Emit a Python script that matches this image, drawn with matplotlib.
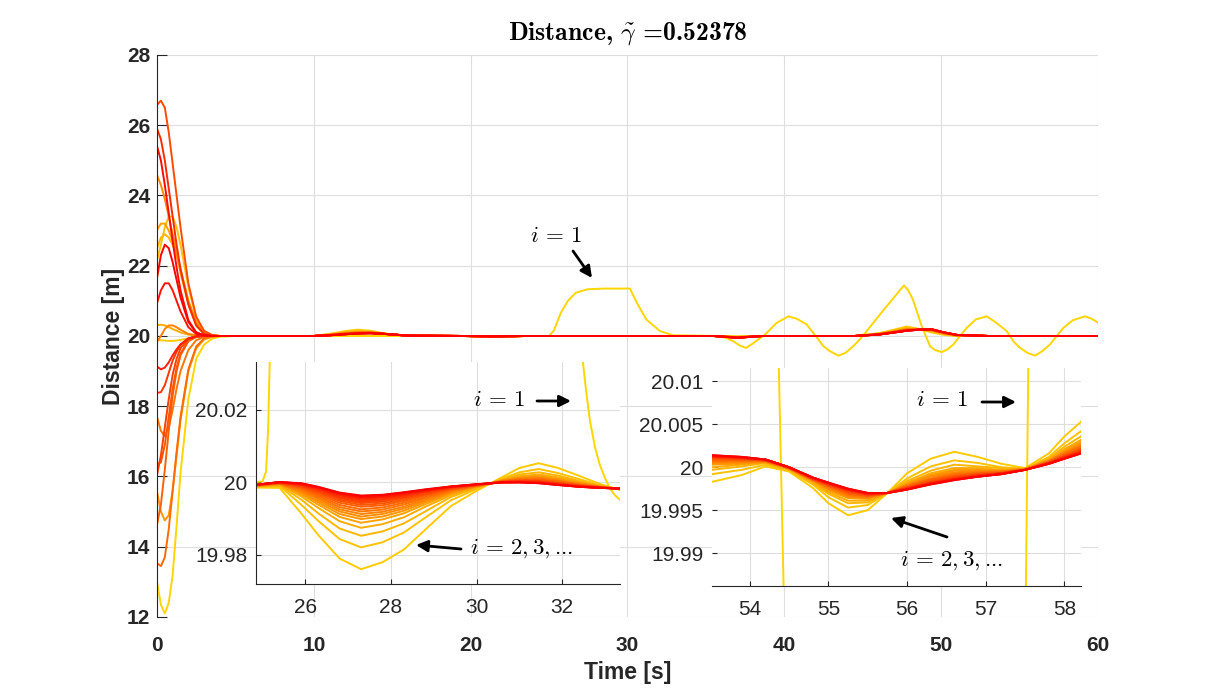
import matplotlib
matplotlib.use("Agg")
import matplotlib.pyplot as plt
from matplotlib.patches import FancyArrowPatch
from matplotlib.ticker import FormatStrFormatter
import numpy as np

plt.rcParams['font.family'] = ['Liberation Sans', 'DejaVu Sans']
plt.rcParams['mathtext.fontset'] = 'cm'

# ---------------- main plot data ----------------
t_early = [0, 0.25, 0.5, 0.75, 1.0, 1.25, 1.5, 2.0, 2.5, 3.0, 3.5, 4.0, 5.0]
t_late = [10, 11, 12, 12.8, 13.6, 14.5, 16, 19.5, 21.5, 23.5, 35.5, 37, 38.6,
          44.5, 46, 47, 47.8, 48.6, 49.4, 50.2, 51, 53, 60]

# vehicle i = 1
lead_t = [0, 0.25, 0.5, 0.75, 1.0, 1.25, 1.5, 2.0, 2.5, 3.0, 3.5, 4.0, 5.0,
          25.0, 25.3, 25.75, 26.2, 26.7, 27.45, 28.5, 30.16, 30.59, 31.2, 32.07, 32.9,
          35.9, 36.4, 36.75, 37.15, 37.56, 38.0, 38.77, 39.5, 40.26, 40.8,
          41.42, 42.0, 42.49, 42.9, 43.45, 43.9, 44.4, 44.8, 45.25, 46.4,
          47.63, 47.9, 48.2, 48.76, 49.29, 49.6, 50.03, 50.4, 50.78, 51.2,
          51.63, 52.2, 52.9, 53.5, 54.18, 54.6, 55.03, 55.5, 55.98, 56.45,
          56.94, 57.37, 57.79, 58.4, 59.17, 59.6, 60.0]
lead_d = [13.0, 12.35, 12.1, 12.4, 13.2, 14.6, 16.1, 18.2, 19.35, 19.75, 19.92, 19.98, 20.0,
          20.0, 20.15, 20.66, 21.0, 21.23, 21.33, 21.35, 21.35, 20.95, 20.47, 20.14, 20.02,
          20.0, 19.92, 19.85, 19.73, 19.66, 19.79, 20.04, 20.37, 20.56, 20.49,
          20.33, 20.0, 19.71, 19.57, 19.44, 19.52, 19.71, 19.9, 20.14, 20.78,
          21.44, 21.3, 21.04, 20.28, 19.71, 19.6, 19.54, 19.62, 19.76, 20.0,
          20.23, 20.47, 20.56, 20.38, 20.14, 19.85, 19.66, 19.52, 19.44, 19.57,
          19.76, 20.0, 20.23, 20.45, 20.56, 20.49, 20.38]

# vehicles i = 2 ... 21, start-up transient (on t_early)
follow_early = [
    [19.89, 19.88, 19.87, 19.86, 19.86, 19.87, 19.89, 19.93, 19.97, 19.99, 20.0, 20.0, 20.0],
    [22.16, 22.6, 23.1, 23.4, 23.4, 23.1, 22.6, 21.4, 20.5, 20.12, 20.02, 20.0, 20.0],
    [22.5, 22.8, 22.9, 22.8, 22.6, 22.3, 21.9, 21.0, 20.35, 20.08, 20.01, 20.0, 20.0],
    [20.31, 20.32, 20.3, 20.25, 20.2, 20.15, 20.1, 20.04, 20.01, 20.0, 20.0, 20.0, 20.0],
    [23.02, 23.2, 23.2, 23.0, 22.7, 22.3, 21.8, 20.9, 20.3, 20.06, 20.01, 20.0, 20.0],
    [15.57, 15.0, 14.75, 14.9, 15.6, 16.6, 17.6, 19.0, 19.65, 19.9, 19.97, 20.0, 20.0],
    [24.58, 24.3, 23.9, 23.4, 22.9, 22.4, 21.9, 21.0, 20.4, 20.1, 20.02, 20.0, 20.0],
    [19.84, 20.0, 20.2, 20.3, 20.3, 20.25, 20.18, 20.06, 20.02, 20.0, 20.0, 20.0, 20.0],
    [17.7, 17.3, 17.15, 17.4, 17.9, 18.5, 19.0, 19.6, 19.88, 19.97, 20.0, 20.0, 20.0],
    [13.53, 13.45, 13.7, 14.5, 15.6, 16.7, 17.7, 19.05, 19.7, 19.93, 19.99, 20.0, 20.0],
    [14.62, 15.2, 16.2, 17.3, 18.3, 19.0, 19.45, 19.85, 19.97, 20.0, 20.0, 20.0, 20.0],
    [16.36, 16.4, 16.9, 17.7, 18.5, 19.1, 19.5, 19.88, 19.98, 20.0, 20.0, 20.0, 20.0],
    [26.58, 26.7, 26.5, 25.8, 24.9, 24.0, 23.1, 21.5, 20.55, 20.15, 20.03, 20.0, 20.0],
    [16.04, 16.6, 17.4, 18.2, 18.9, 19.35, 19.65, 19.92, 19.99, 20.0, 20.0, 20.0, 20.0],
    [18.38, 18.4, 18.6, 18.95, 19.3, 19.55, 19.75, 19.93, 19.99, 20.0, 20.0, 20.0, 20.0],
    [25.91, 25.6, 25.0, 24.2, 23.4, 22.6, 21.9, 20.9, 20.3, 20.06, 20.01, 20.0, 20.0],
    [19.13, 19.05, 19.1, 19.25, 19.45, 19.62, 19.76, 19.93, 19.99, 20.0, 20.0, 20.0, 20.0],
    [20.93, 21.3, 21.5, 21.5, 21.3, 21.0, 20.7, 20.25, 20.06, 20.01, 20.0, 20.0, 20.0],
    [25.41, 25.0, 24.3, 23.5, 22.7, 21.95, 21.3, 20.45, 20.1, 20.02, 20.0, 20.0, 20.0],
    [21.64, 22.3, 22.6, 22.5, 22.1, 21.6, 21.1, 20.4, 20.1, 20.02, 20.0, 20.0, 20.0],
]

# vehicles i = 2 ... 21, later part (on t_late)
follow_late = [
    [20, 20.06, 20.14, 20.18, 20.15, 20.07, 20.0, 20, 19.97, 20, 20, 19.99, 20, 20, 20.08, 20.18, 20.27, 20.20, 20.10, 20.03, 20.00, 20, 20],
    [20, 20.05, 20.11, 20.15, 20.13, 20.07, 20.0, 20, 19.98, 20, 20, 19.98, 20, 20, 20.07, 20.16, 20.23, 20.19, 20.13, 20.05, 20.01, 20, 20],
    [20, 20.04, 20.10, 20.13, 20.12, 20.07, 20.0, 20, 19.98, 20, 20, 19.97, 20, 20, 20.06, 20.14, 20.22, 20.19, 20.14, 20.06, 20.01, 20, 20],
    [20, 20.04, 20.09, 20.12, 20.11, 20.06, 20.01, 20, 19.98, 20, 20, 19.97, 20, 20, 20.06, 20.13, 20.20, 20.19, 20.15, 20.07, 20.02, 20, 20],
    [20, 20.03, 20.08, 20.11, 20.11, 20.06, 20.01, 20, 19.98, 20, 20, 19.96, 20, 20, 20.05, 20.13, 20.19, 20.19, 20.16, 20.07, 20.02, 20, 20],
    [20, 20.03, 20.08, 20.11, 20.10, 20.06, 20.01, 20, 19.98, 20, 20, 19.96, 20, 20, 20.05, 20.13, 20.19, 20.19, 20.16, 20.08, 20.02, 20, 20],
    [20, 20.03, 20.08, 20.10, 20.10, 20.06, 20.01, 20, 19.98, 20, 20, 19.96, 20, 20, 20.05, 20.12, 20.18, 20.19, 20.16, 20.08, 20.02, 20, 20],
    [20, 20.03, 20.07, 20.10, 20.10, 20.06, 20.01, 20, 19.99, 20, 20, 19.96, 20, 20, 20.05, 20.12, 20.18, 20.19, 20.17, 20.08, 20.02, 20, 20],
    [20, 20.03, 20.07, 20.09, 20.10, 20.06, 20.01, 20, 19.99, 20, 20, 19.96, 20, 20, 20.05, 20.12, 20.18, 20.18, 20.17, 20.08, 20.02, 20, 20],
    [20, 20.03, 20.07, 20.09, 20.09, 20.06, 20.01, 20, 19.99, 20, 20, 19.96, 20, 20, 20.05, 20.11, 20.17, 20.18, 20.17, 20.09, 20.02, 20, 20],
    [20, 20.03, 20.06, 20.09, 20.09, 20.06, 20.01, 20, 19.99, 20, 20, 19.96, 20, 20, 20.05, 20.11, 20.17, 20.18, 20.18, 20.09, 20.03, 20, 20],
    [20, 20.03, 20.06, 20.08, 20.09, 20.06, 20.01, 20, 19.99, 20, 20, 19.96, 20, 20, 20.05, 20.11, 20.17, 20.18, 20.18, 20.09, 20.03, 20, 20],
    [20, 20.02, 20.06, 20.08, 20.09, 20.06, 20.01, 20, 19.99, 20, 20, 19.95, 20, 20, 20.04, 20.11, 20.16, 20.18, 20.18, 20.09, 20.03, 20, 20],
    [20, 20.02, 20.06, 20.08, 20.09, 20.06, 20.01, 20, 19.99, 20, 20, 19.95, 20, 20, 20.04, 20.11, 20.16, 20.18, 20.18, 20.09, 20.03, 20, 20],
    [20, 20.02, 20.05, 20.08, 20.08, 20.06, 20.01, 20, 19.99, 20, 20, 19.95, 20, 20, 20.04, 20.10, 20.16, 20.18, 20.18, 20.10, 20.03, 20, 20],
    [20, 20.02, 20.05, 20.08, 20.08, 20.06, 20.01, 20, 19.99, 20, 20, 19.95, 20, 20, 20.04, 20.10, 20.16, 20.18, 20.19, 20.10, 20.03, 20, 20],
    [20, 20.02, 20.05, 20.07, 20.08, 20.06, 20.01, 20, 19.99, 20, 20, 19.95, 20, 20, 20.04, 20.10, 20.15, 20.18, 20.19, 20.10, 20.03, 20, 20],
    [20, 20.02, 20.05, 20.07, 20.08, 20.06, 20.01, 20, 19.99, 20, 20, 19.95, 20, 20, 20.04, 20.10, 20.15, 20.18, 20.19, 20.10, 20.03, 20, 20],
    [20, 20.02, 20.05, 20.07, 20.08, 20.06, 20.01, 20, 19.99, 20, 20, 19.95, 20, 20, 20.04, 20.10, 20.15, 20.18, 20.19, 20.10, 20.03, 20, 20],
    [20, 20.02, 20.05, 20.07, 20.08, 20.06, 20.01, 20, 19.99, 20, 20, 19.95, 20, 20, 20.04, 20.10, 20.15, 20.18, 20.19, 20.10, 20.03, 20, 20],
]

# ---------------- left zoom (t = 24.8 ... 33.4), deviation from 20 m in mm ----------------
lz_t = [24.8, 25.4, 25.9, 26.3, 26.8, 27.3, 27.8, 28.3, 28.8, 29.4, 30.0, 30.6, 31.0, 31.45, 31.9, 32.4, 32.9, 33.4]
lz_lead_t = [24.84, 25.0, 25.08, 25.13, 25.18, 25.5, 27.5, 30.2, 32.0, 32.42, 32.55, 32.65,
             32.77, 32.88, 33.0, 33.11, 33.23, 33.35]
lz_lead_d = [20.0001, 20.0003, 20.003, 20.015, 20.04, 20.3, 21.3, 21.35, 20.2, 20.04, 20.026, 20.0168,
             20.0095, 20.0048, 20.0012, 19.9984, 19.9965, 19.9952]
lz_dev_mm = [
    [-1.4, -1.5, -8.5, -14.5, -21.0, -23.9, -22.0, -18.5, -13.0, -6.5, -2.3, 1.5, 4.0, 5.3, 4.0, 1.8, -0.5, -2.2],
    [-1.2, -1.0, -6.1, -10.6, -15.6, -17.9, -16.5, -13.8, -9.7, -4.9, -1.8, 1.1, 2.8, 3.7, 2.6, 0.9, -0.8, -2.1],
    [-1.1, -0.8, -4.7, -8.5, -12.7, -14.7, -13.5, -11.3, -8.0, -4.0, -1.5, 0.8, 2.2, 2.8, 1.9, 0.4, -1.0, -2.0],
    [-1.0, -0.6, -3.8, -7.0, -10.7, -12.5, -11.5, -9.6, -6.7, -3.5, -1.3, 0.7, 1.7, 2.2, 1.4, 0.1, -1.1, -1.9],
    [-1.0, -0.5, -3.3, -6.1, -9.5, -11.1, -10.2, -8.5, -6.0, -3.1, -1.2, 0.6, 1.5, 1.8, 1.0, -0.1, -1.1, -1.9],
    [-0.9, -0.4, -2.9, -5.5, -8.7, -10.1, -9.4, -7.8, -5.5, -2.8, -1.1, 0.5, 1.3, 1.6, 0.8, -0.2, -1.2, -1.9],
    [-0.9, -0.4, -2.6, -5.0, -8.0, -9.4, -8.7, -7.2, -5.1, -2.6, -1.0, 0.4, 1.1, 1.4, 0.6, -0.3, -1.2, -1.8],
    [-0.9, -0.3, -2.3, -4.5, -7.4, -8.7, -8.1, -6.7, -4.7, -2.5, -1.0, 0.4, 1.0, 1.2, 0.5, -0.5, -1.3, -1.8],
    [-0.9, -0.3, -2.0, -4.1, -6.8, -8.0, -7.5, -6.1, -4.3, -2.3, -0.9, 0.3, 0.9, 1.0, 0.3, -0.6, -1.3, -1.8],
    [-0.8, -0.2, -1.7, -3.7, -6.2, -7.4, -6.9, -5.6, -4.0, -2.1, -0.8, 0.3, 0.7, 0.8, 0.2, -0.6, -1.3, -1.8],
    [-0.8, -0.2, -1.5, -3.3, -5.6, -6.7, -6.3, -5.1, -3.6, -1.9, -0.8, 0.2, 0.6, 0.7, 0.0, -0.7, -1.4, -1.8],
    [-0.8, -0.1, -1.3, -2.9, -5.1, -6.2, -5.8, -4.7, -3.3, -1.8, -0.7, 0.2, 0.5, 0.5, -0.1, -0.8, -1.4, -1.8],
    [-0.8, -0.1, -1.1, -2.6, -4.7, -5.7, -5.3, -4.3, -3.1, -1.7, -0.7, 0.2, 0.4, 0.4, -0.2, -0.9, -1.4, -1.8],
    [-0.8, 0.0, -0.9, -2.3, -4.3, -5.3, -4.9, -4.0, -2.8, -1.5, -0.7, 0.1, 0.3, 0.3, -0.3, -1.0, -1.4, -1.7],
    [-0.7, 0.0, -0.7, -2.0, -4.0, -4.9, -4.6, -3.7, -2.6, -1.4, -0.6, 0.1, 0.3, 0.2, -0.4, -1.0, -1.4, -1.7],
    [-0.7, 0.0, -0.6, -1.8, -3.6, -4.5, -4.2, -3.4, -2.4, -1.3, -0.6, 0.1, 0.2, 0.0, -0.5, -1.1, -1.5, -1.7],
    [-0.7, 0.1, -0.5, -1.6, -3.4, -4.3, -4.0, -3.2, -2.3, -1.3, -0.6, 0.0, 0.1, 0.0, -0.6, -1.1, -1.5, -1.7],
    [-0.7, 0.1, -0.4, -1.4, -3.1, -4.0, -3.7, -3.0, -2.1, -1.2, -0.5, 0.0, 0.1, -0.1, -0.6, -1.2, -1.5, -1.7],
    [-0.7, 0.1, -0.3, -1.3, -2.9, -3.8, -3.5, -2.8, -2.0, -1.1, -0.5, 0.0, 0.0, -0.2, -0.7, -1.2, -1.5, -1.7],
    [-0.7, 0.1, -0.2, -1.2, -2.8, -3.6, -3.4, -2.7, -1.9, -1.1, -0.5, 0.0, 0.0, -0.2, -0.7, -1.2, -1.5, -1.7],
]

# ---------------- right zoom (t = 53.5 ... 58.2), deviation from 20 m in mm ----------------
rz_t = [53.52, 53.9, 54.2, 54.5, 54.8, 55.0, 55.25, 55.5, 55.75, 56.0, 56.3, 56.6, 56.9, 57.2, 57.5, 57.8, 58.0, 58.21]
rz_lead_t = [53.4, 54.0, 54.3, 54.37, 54.43, 54.5, 55.0, 56.0, 57.0, 57.45, 57.51, 57.54, 57.6, 58.3]
rz_lead_d = [20.25, 20.2, 20.04, 20.0115, 19.9862, 19.96, 19.7, 19.44, 19.76, 19.96, 19.9862, 20.0115, 20.04, 20.43]
rz_dev_mm = [
    [-1.7, -0.9, 0.1, -0.5, -2.4, -4.2, -5.6, -5.0, -3.0, -0.7, 1.0, 1.8, 1.2, 0.4, -0.1, 1.6, 3.6, 5.3],
    [-0.8, -0.3, 0.3, -0.4, -2.0, -3.5, -4.7, -4.4, -3.0, -1.3, 0.1, 0.8, 0.5, 0.0, -0.2, 1.2, 2.8, 4.2],
    [-0.3, 0.1, 0.5, -0.3, -1.9, -3.1, -4.2, -4.1, -3.0, -1.6, -0.4, 0.3, 0.1, -0.1, -0.2, 1.0, 2.4, 3.6],
    [0.0, 0.3, 0.6, -0.2, -1.7, -2.9, -3.9, -3.9, -3.0, -1.8, -0.7, -0.1, -0.1, -0.3, -0.2, 0.9, 2.1, 3.2],
    [0.3, 0.4, 0.6, -0.2, -1.6, -2.7, -3.6, -3.7, -3.0, -1.9, -0.9, -0.3, -0.3, -0.4, -0.2, 0.8, 2.0, 3.0],
    [0.4, 0.5, 0.6, -0.2, -1.6, -2.6, -3.5, -3.6, -3.0, -2.0, -1.0, -0.4, -0.4, -0.4, -0.2, 0.8, 1.8, 2.8],
    [0.5, 0.6, 0.7, -0.1, -1.5, -2.5, -3.4, -3.6, -3.0, -2.1, -1.1, -0.6, -0.4, -0.5, -0.2, 0.7, 1.7, 2.7],
    [0.6, 0.7, 0.7, -0.1, -1.5, -2.4, -3.3, -3.5, -3.0, -2.1, -1.3, -0.7, -0.5, -0.5, -0.3, 0.7, 1.7, 2.5],
    [0.7, 0.7, 0.7, -0.1, -1.5, -2.3, -3.2, -3.4, -3.0, -2.2, -1.4, -0.8, -0.6, -0.5, -0.3, 0.7, 1.6, 2.4],
    [0.8, 0.8, 0.8, -0.1, -1.4, -2.2, -3.1, -3.4, -3.0, -2.2, -1.4, -0.9, -0.7, -0.6, -0.3, 0.6, 1.5, 2.3],
    [0.9, 0.9, 0.8, -0.1, -1.4, -2.2, -3.0, -3.3, -3.0, -2.3, -1.5, -1.0, -0.7, -0.6, -0.3, 0.6, 1.4, 2.2],
    [1.0, 0.9, 0.8, -0.1, -1.4, -2.1, -2.9, -3.3, -3.0, -2.4, -1.6, -1.1, -0.8, -0.7, -0.3, 0.6, 1.3, 2.1],
    [1.1, 1.0, 0.8, -0.1, -1.3, -2.0, -2.8, -3.2, -3.0, -2.4, -1.7, -1.2, -0.9, -0.7, -0.3, 0.5, 1.3, 2.0],
    [1.2, 1.0, 0.8, 0.0, -1.3, -2.0, -2.8, -3.2, -3.0, -2.4, -1.8, -1.2, -0.9, -0.7, -0.3, 0.5, 1.2, 1.9],
    [1.2, 1.1, 0.9, 0.0, -1.3, -2.0, -2.7, -3.1, -3.0, -2.5, -1.8, -1.3, -1.0, -0.7, -0.3, 0.5, 1.2, 1.8],
    [1.3, 1.1, 0.9, 0.0, -1.3, -1.9, -2.6, -3.1, -3.0, -2.5, -1.9, -1.4, -1.0, -0.7, -0.3, 0.5, 1.1, 1.8],
    [1.3, 1.1, 0.9, 0.0, -1.2, -1.9, -2.6, -3.1, -3.0, -2.5, -1.9, -1.4, -1.0, -0.8, -0.3, 0.4, 1.1, 1.7],
    [1.3, 1.2, 0.9, 0.0, -1.2, -1.8, -2.6, -3.0, -3.0, -2.6, -1.9, -1.4, -1.1, -0.8, -0.3, 0.4, 1.0, 1.7],
    [1.4, 1.2, 0.9, 0.0, -1.2, -1.8, -2.5, -3.0, -3.0, -2.6, -2.0, -1.5, -1.1, -0.8, -0.3, 0.4, 1.0, 1.6],
    [1.4, 1.2, 0.9, 0.0, -1.2, -1.8, -2.5, -3.0, -3.0, -2.6, -2.0, -1.5, -1.1, -0.8, -0.3, 0.4, 1.0, 1.6],
]

n_veh = 1 + len(follow_early)
colors = [(1.0, 0.84 * (n_veh - 1 - k) / (n_veh - 1), 0.0) for k in range(n_veh)]
lw = 1.4
txt = '#262626'

fig = plt.figure(figsize=(12.15, 6.97), dpi=100)

# ---------------- main axes ----------------
ax = fig.add_axes([0.1292, 0.1148, 0.7745, 0.8063])
ax.plot(lead_t, lead_d, color=colors[0], lw=lw)
t_main = t_early + t_late
for k in range(len(follow_early)):
    ax.plot(t_main, follow_early[k] + follow_late[k], color=colors[k + 1], lw=lw)

ax.set_xlim(0, 60)
ax.set_ylim(12, 28)
ax.set_xticks(range(0, 61, 10))
ax.set_yticks(range(12, 29, 2))
ax.grid(True, color='#dedede', lw=0.8)
ax.set_axisbelow(True)
for s in ['top', 'right', 'bottom']:
    ax.spines[s].set_visible(False)
ax.spines['left'].set_color(txt)
ax.spines['left'].set_linewidth(0.8)
ax.tick_params(axis='y', direction='in', length=7, width=0.8, colors=txt, labelsize=15, pad=5)
ax.tick_params(axis='x', length=0, colors=txt, labelsize=15, pad=14)
for lbl in ax.get_xticklabels() + ax.get_yticklabels():
    lbl.set_fontweight('bold')
ax.set_xlabel('Time [s]', fontsize=16.5, fontweight='bold', color=txt, labelpad=4)
ax.set_ylabel('Distance [m]', fontsize=16.5, fontweight='bold', color=txt, labelpad=1)
ax.set_title(r'Distance, $\tilde{\gamma}$ =0.52378', fontfamily='cmb10', fontsize=18.5, pad=11)


def style_inset(a, hide_left=False):
    for s in ['top', 'right']:
        a.spines[s].set_visible(False)
    if hide_left:
        a.spines['left'].set_visible(False)
    for s in ['left', 'bottom']:
        a.spines[s].set_color(txt)
        a.spines[s].set_linewidth(0.8)
    a.grid(True, color='#dedede', lw=0.8)
    a.set_axisbelow(True)
    a.tick_params(direction='in', length=3.5, width=0.8, colors=txt, labelsize=15)
    a.tick_params(axis='x', pad=10)
    a.tick_params(axis='y', pad=6)
    a.yaxis.set_major_formatter(FormatStrFormatter('%g'))


# ---------------- left inset ----------------
axL = fig.add_axes([0.2105, 0.1621, 0.2998, 0.3185])
axL.plot(lz_lead_t, lz_lead_d, color=colors[0], lw=lw)
for k, row in enumerate(lz_dev_mm):
    axL.plot(lz_t, 20 + np.array(row) / 1000, color=colors[k + 1], lw=lw)
axL.set_xlim(24.84, 33.35)
axL.set_ylim(19.972, 20.0332)
axL.set_xticks([26, 28, 30, 32])
axL.set_yticks([19.98, 20.0, 20.02])
style_inset(axL)

# ---------------- right inset ----------------
axR = fig.add_axes([0.5858, 0.1597, 0.3039, 0.3123])
axR.plot(rz_lead_t, rz_lead_d, color=colors[0], lw=lw)
for k, row in enumerate(rz_dev_mm):
    axR.plot(rz_t, 20 + np.array(row) / 1000, color=colors[k + 1], lw=lw)
axR.set_xlim(53.517, 58.21)
axR.set_ylim(19.98619, 20.01157)
axR.set_xticks([54, 55, 56, 57, 58])
axR.set_yticks([19.99, 19.995, 20.0, 20.005, 20.01])
style_inset(axR, hide_left=True)

# ---------------- annotations ----------------
W, H = 1215, 697


def fpos(x, y):
    return (x / W, 1 - y / H)


lab_one = r'$i\,=\,1$'
lab_rest = r'$i\,=\,2,3,$...'
notes = [
    (lab_one, (556, 236), (573, 251), (592, 278)),
    (lab_one, (499, 400), (537, 401), (571, 401)),
    (lab_rest, (522, 548), (461, 549), (416, 545)),
    (lab_one, (942, 400), (982, 402), (1016, 402)),
    (lab_rest, (952, 560), (947, 537), (891, 518)),
]
for label, tpos, tail, head in notes:
    fig.text(*fpos(*tpos), label, fontsize=16.5, fontfamily='cmr10', ha='center', va='center')
    arr = FancyArrowPatch(fpos(*tail), fpos(*head), transform=fig.transFigure,
                          arrowstyle='-|>', mutation_scale=17, lw=2, color='black',
                          shrinkA=0, shrinkB=0)
    fig.add_artist(arr)

fig.savefig('out.png', dpi=100)
